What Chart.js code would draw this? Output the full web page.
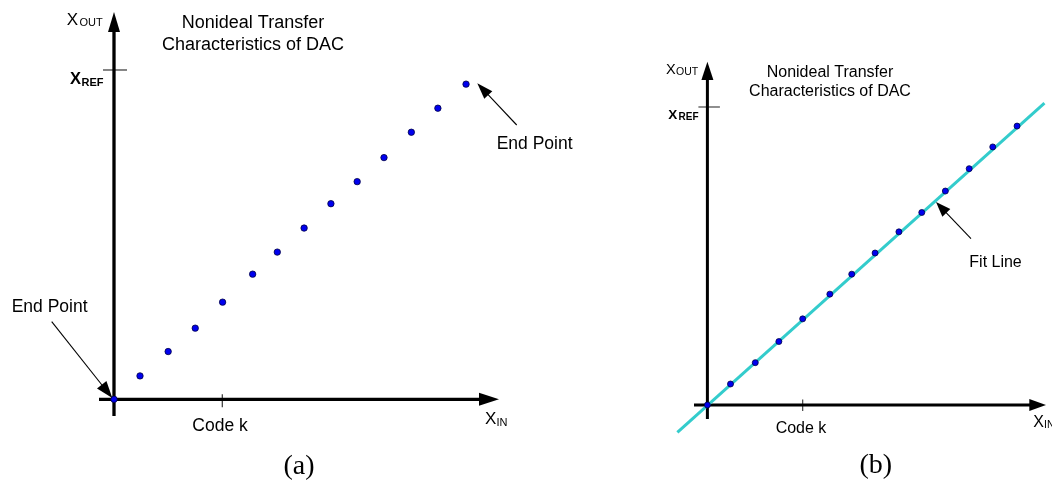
<!DOCTYPE html>
<html>
<head>
<meta charset="utf-8">
<script src="https://cdn.jsdelivr.net/npm/chart.js@4.4.1/dist/chart.umd.min.js"></script>
<style>
html,body{margin:0;padding:0;background:#fff;overflow:hidden;width:1052px;height:480px}
#a{position:absolute;left:0;top:0}
#b{position:absolute;left:600px;top:0}
</style>
</head>
<body>
<canvas id="a" width="600" height="480"></canvas>
<canvas id="b" width="452" height="480"></canvas>
<script>
// ---- data ----
// panel (a): codes on X_IN, outputs as fraction of X_REF
const codesA = [0, 0.96, 2.0, 3.0, 4.01, 5.12, 6.03, 7.02, 8.01, 8.98, 9.97, 10.98, 11.96, 13.0];
const outA   = [0, 0.071, 0.145, 0.216, 0.295, 0.380, 0.447, 0.520, 0.594, 0.661, 0.734, 0.811, 0.884, 0.957];
// panel (b)
const codesB = [0, 0.97, 2.01, 3.0, 4.0, 5.14, 6.06, 7.04, 8.04, 9.0, 9.99, 10.99, 11.98, 13.0];
const outB   = [0, 0.0705, 0.142, 0.213, 0.289, 0.372, 0.439, 0.510, 0.581, 0.646, 0.718, 0.793, 0.866, 0.936];
// fit line in (b)
const fitCodes = [-1.26, 14.15];
const fitOut   = [-0.092, 1.013];
// tick marks
const codeTickValue = 4;
const codeTickLabel = 'Code k';
const refLevel = 1;
const titleLines = ['Nonideal Transfer', 'Characteristics of DAC'];

const SANS = '"Liberation Sans", Arial, sans-serif';
const SERIF = '"Liberation Serif", "Times New Roman", serif';

function head(ctx, tx, ty, ang, len, half) {
  const c = Math.cos(ang), s = Math.sin(ang);
  ctx.beginPath();
  ctx.moveTo(tx, ty);
  ctx.lineTo(tx - len * c + half * s, ty - len * s - half * c);
  ctx.lineTo(tx - len * c - half * s, ty - len * s + half * c);
  ctx.closePath();
  ctx.fill();
}

const decor = {
  id: 'decor',
  beforeDatasetsDraw(chart, args, o) {
    const ctx = chart.ctx, xs = chart.scales.x, ys = chart.scales.y, ca = chart.chartArea;
    const ox = xs.getPixelForValue(0), oy = ys.getPixelForValue(0);
    ctx.save();
    // thin tick marks
    ctx.strokeStyle = o.tickColor; ctx.lineWidth = o.tickW;
    const ry = ys.getPixelForValue(refLevel);
    ctx.beginPath(); ctx.moveTo(ox + o.refTick[0], ry); ctx.lineTo(ox + o.refTick[1], ry); ctx.stroke();
    const kx = xs.getPixelForValue(codeTickValue);
    ctx.beginPath(); ctx.moveTo(kx, oy + o.codeTick[0]); ctx.lineTo(kx, oy + o.codeTick[1]); ctx.stroke();
    // axes
    ctx.strokeStyle = '#000'; ctx.fillStyle = '#000'; ctx.lineWidth = o.axisW; ctx.lineCap = 'butt';
    ctx.beginPath(); ctx.moveTo(ox, ca.bottom); ctx.lineTo(ox, ca.top + o.yHead[0] - 1); ctx.stroke();
    head(ctx, ox, ca.top, -Math.PI / 2, o.yHead[0], o.yHead[1]);
    ctx.beginPath(); ctx.moveTo(ca.left, oy); ctx.lineTo(ca.right - o.xHead[0] + 1, oy); ctx.stroke();
    head(ctx, ca.right, oy, 0, o.xHead[0], o.xHead[1]);
    ctx.restore();
  },
  afterDatasetsDraw(chart, args, o) {
    const ctx = chart.ctx;
    ctx.save();
    ctx.fillStyle = '#000'; ctx.strokeStyle = '#000';
    for (const t of o.texts) {
      ctx.save();
      if (t.clip) { ctx.beginPath(); ctx.rect(0, 0, t.clip, chart.height); ctx.clip(); }
      ctx.font = t.f; ctx.textAlign = t.a || 'left'; ctx.textBaseline = 'alphabetic';
      ctx.fillText(t.t, t.x, t.y);
      ctx.restore();
    }
    ctx.lineWidth = 1.1;
    for (const a of o.arrows) {
      const [x1, y1, x2, y2, len, half] = a;
      const ang = Math.atan2(y2 - y1, x2 - x1);
      ctx.beginPath(); ctx.moveTo(x1, y1);
      ctx.lineTo(x2 - (len - 1) * Math.cos(ang), y2 - (len - 1) * Math.sin(ang)); ctx.stroke();
      head(ctx, x2, y2, ang, len, half);
    }
    ctx.restore();
  }
};

function pts(xs, ys) { return xs.map((x, i) => ({ x: x, y: ys[i] })); }

const common = (pad, xr, yr, dec) => ({
  responsive: false,
  animation: false,
  layout: { padding: pad },
  plugins: { legend: { display: false }, tooltip: { enabled: false }, title: { display: false }, decor: dec },
  scales: {
    x: { type: 'linear', display: false, min: xr[0], max: xr[1] },
    y: { type: 'linear', display: false, min: yr[0], max: yr[1] }
  }
});

new Chart(document.getElementById('a'), {
  type: 'scatter',
  data: {
    datasets: [{
      data: pts(codesA, outA),
      pointRadius: 3.2, pointBackgroundColor: '#0000ee', pointBorderColor: '#000044', pointBorderWidth: 0.8,
      clip: false
    }]
  },
  options: common(
    { left: 99, right: 101, top: 12, bottom: 64 },
    [-0.5539, 14.217], [-0.0507, 1.1761],
    {
      axisW: 3.3, yHead: [20, 6], xHead: [20, 6.5],
      tickColor: '#444', tickW: 1.3, refTick: [-11, 13], codeTick: [-5, 8],
      texts: [
        { t: titleLines[0], x: 253, y: 28.3, f: '18px ' + SANS, a: 'center' },
        { t: titleLines[1], x: 253, y: 49.5, f: '18px ' + SANS, a: 'center' },
        { t: 'X', x: 66.7, y: 25, f: '17px ' + SANS },
        { t: 'OUT', x: 79.5, y: 26, f: '11px ' + SANS },
        { t: 'X', x: 70, y: 84, f: 'bold 16.5px ' + SANS },
        { t: 'REF', x: 81.5, y: 86, f: 'bold 11px ' + SANS },
        { t: 'End Point', x: 11.7, y: 311.7, f: '17.5px ' + SANS },
        { t: 'End Point', x: 496.7, y: 149.3, f: '17.5px ' + SANS },
        { t: codeTickLabel, x: 220, y: 430.7, f: '17.5px ' + SANS, a: 'center' },
        { t: 'X', x: 485, y: 424, f: '17px ' + SANS, clip: 507 },
        { t: 'IN', x: 496.5, y: 425.5, f: '11px ' + SANS, clip: 507 },
        { t: '(a)', x: 299, y: 473.5, f: '28px ' + SERIF, a: 'center' }
      ],
      arrows: [
        [51.7, 321.7, 112.3, 398, 17, 6],
        [516.7, 125, 477.3, 83.3, 16, 5.5]
      ]
    }
  ),
  plugins: [decor]
});

new Chart(document.getElementById('b'), {
  type: 'scatter',
  data: {
    datasets: [{
      data: pts(codesB, outB),
      pointRadius: 3, pointBackgroundColor: '#0000ee', pointBorderColor: '#000044', pointBorderWidth: 0.8,
      clip: false
    }, {
      data: pts(fitCodes, fitOut),
      showLine: true, borderColor: '#33cccc', borderWidth: 3, pointRadius: 0, clip: false
    }]
  },
  options: common(
    { left: 94, right: 6, top: 61.7, bottom: 61 },
    [-0.5626, 14.215], [-0.047, 1.152],
    {
      axisW: 3, yHead: [18.3, 6], xHead: [16.7, 6],
      tickColor: '#444', tickW: 1.2, refTick: [-9, 12.5], codeTick: [-5.5, 6],
      texts: [
        { t: titleLines[0], x: 230, y: 76.7, f: '16px ' + SANS, a: 'center' },
        { t: titleLines[1], x: 230, y: 96, f: '16px ' + SANS, a: 'center' },
        { t: 'X', x: 66, y: 74, f: '14.5px ' + SANS },
        { t: 'OUT', x: 76, y: 75, f: '10.5px ' + SANS },
        { t: 'X', x: 68.3, y: 119, f: 'bold 13.5px ' + SANS },
        { t: 'REF', x: 78.5, y: 120, f: 'bold 10px ' + SANS },
        { t: 'Fit Line', x: 369.3, y: 266.7, f: '16px ' + SANS },
        { t: codeTickLabel, x: 201, y: 433.3, f: '16px ' + SANS, a: 'center' },
        { t: 'X', x: 433.3, y: 426.7, f: '16px ' + SANS },
        { t: 'IN', x: 444, y: 428, f: '10.5px ' + SANS },
        { t: '(b)', x: 275.7, y: 472.5, f: '28px ' + SERIF, a: 'center' }
      ],
      arrows: [
        [371, 238.7, 336, 202, 15, 5.5]
      ]
    }
  ),
  plugins: [decor]
});
</script>
</body>
</html>
